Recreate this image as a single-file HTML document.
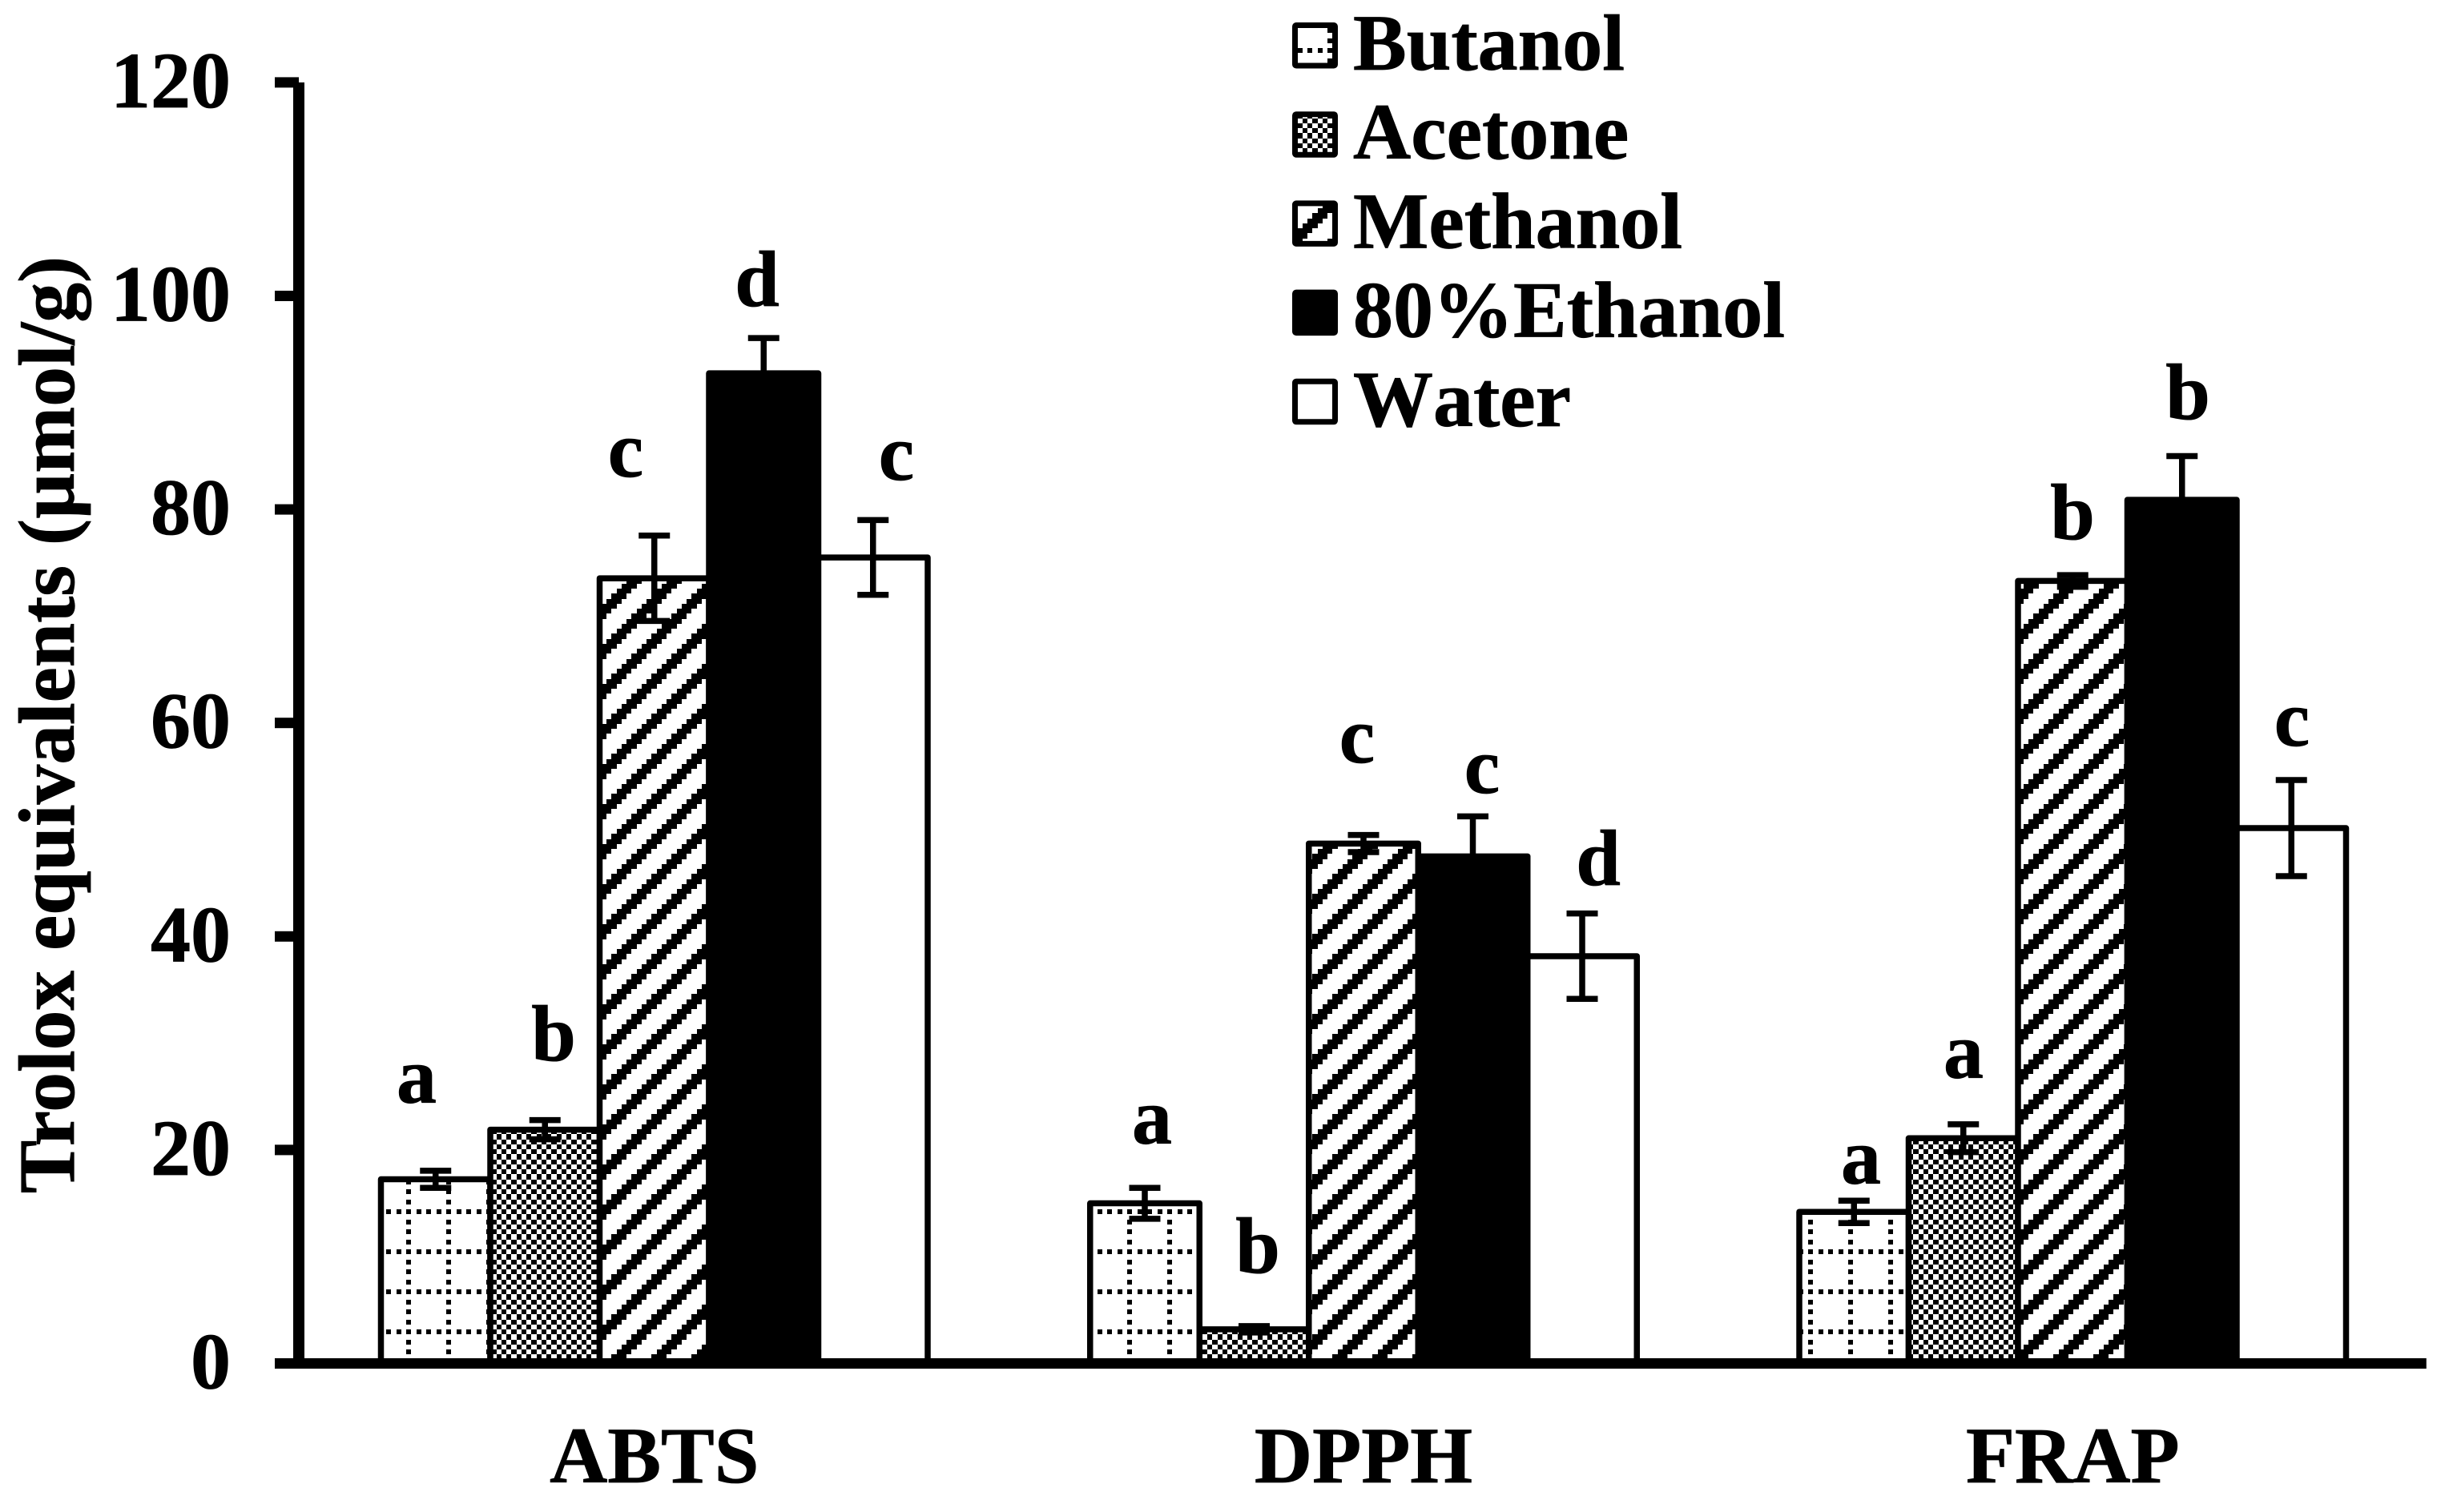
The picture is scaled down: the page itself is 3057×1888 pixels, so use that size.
<!DOCTYPE html>
<html lang="en">
<head>
<meta charset="utf-8">
<title>Trolox equivalents chart</title>
<style>
html,body{margin:0;padding:0;background:#fff;width:3057px;height:1888px;overflow:hidden}
svg{position:absolute;left:0;top:0;display:block}
text{font-family:"Liberation Serif",serif;font-weight:bold;font-size:100px;fill:#000;stroke:#000;stroke-width:.8px}
#legend text{font-kerning:none}
</style>
</head>
<body>
<svg id="chart" xmlns="http://www.w3.org/2000/svg" width="3057" height="1888" viewBox="0 0 3057 1888">
  <rect x="0" y="0" width="3057" height="1888" fill="#fff"/>
  <defs id="defs"></defs>
  <g id="bars"></g>
  <g id="errors"></g>
  <g id="axes"></g>
  <g id="legend"></g>
  <text transform="translate(92,905) rotate(-90)" text-anchor="middle" style="font-size:99.5px">Trolox equivalents (µmol/g)</text>
  <g text-anchor="middle">
    <text x="520" y="1377">a</text>
    <text x="691" y="1324">b</text>
    <text x="781" y="595">c</text>
    <text x="945" y="382">d</text>
    <text x="1119" y="599">c</text>
    <text x="1438" y="1428">a</text>
    <text x="1570" y="1589">b</text>
    <text x="1694" y="952">c</text>
    <text x="1850" y="990">c</text>
    <text x="1995" y="1105">d</text>
    <text x="2323" y="1478">a</text>
    <text x="2451" y="1346">a</text>
    <text x="2587" y="673">b</text>
    <text x="2731" y="523">b</text>
    <text x="2861" y="931">c</text>
  </g>
</svg>
<script>
const categories = ['ABTS', 'DPPH', 'FRAP'];
const seriesNames = ['Butanol', 'Acetone', 'Methanol', '80%Ethanol', 'Water'];
const butanolValues = [17.25, 15.0, 14.2];
const acetoneValues = [21.9, 3.2, 21.1];
const methanolValues = [73.55, 48.7, 73.3];
const ethanolValues = [92.75, 47.5, 80.9];
const waterValues = [75.5, 38.15, 50.15];
const butanolErrors = [0.8, 1.45, 1.05];
const acetoneErrors = [0.9, 0.3, 1.3];
const methanolErrors = [4.0, 0.8, 0.55];
const ethanolErrors = [3.3, 3.75, 4.1];
const waterErrors = [3.5, 4.0, 4.5];
const yTickLabels = [0, 20, 40, 60, 80, 100, 120];

const seriesValues = [butanolValues, acetoneValues, methanolValues, ethanolValues, waterValues];
const seriesErrors = [butanolErrors, acetoneErrors, methanolErrors, ethanolErrors, waterErrors];
const seriesFills = ['url(#pat-butanol)', 'url(#pat-acetone)', 'url(#pat-methanol)', '#000', '#fff'];

const NS = 'http://www.w3.org/2000/svg';
const PLOT_LEFT = 373, BASE_Y = 1702.5, UNIT = 13.33;
const FIRST_BAR = 475.5, GROUP_STEP = 885.25, BAR_W = 136.5;

function yScale(v) { return BASE_Y - v * UNIT; }
function barLeft(c, s) { return FIRST_BAR + c * GROUP_STEP + s * BAR_W; }
function groupCenter(c) { return barLeft(c, 0) + BAR_W * seriesNames.length / 2; }

function mk(tag, parent, attrs) {
  const el = document.createElementNS(NS, tag);
  for (const k in attrs) el.setAttribute(k, attrs[k]);
  parent.appendChild(el);
  return el;
}
function slug(s) { return s.toLowerCase().replace(/[^a-z0-9]+/g, ''); }

/* 8x8 hatch tiles on a 6.25px pixel grid, anchored globally */
function tilePath(test) {
  let d = '';
  const e = i => Math.round(i * 6.25);
  for (let j = 0; j < 8; j++) for (let i = 0; i < 8; i++) {
    if (test(i, j)) d += 'M' + e(i) + ' ' + e(j) + 'H' + e(i + 1) + 'V' + e(j + 1) + 'H' + e(i) + 'Z';
  }
  return d;
}
function addPattern(id, test) {
  const p = mk('pattern', document.getElementById('defs'), { id: id, patternUnits: 'userSpaceOnUse', x: 7, y: 10, width: 50, height: 50 });
  mk('rect', p, { x: 0, y: 0, width: 50, height: 50, fill: '#fff' });
  mk('path', p, { d: tilePath(test), fill: '#000', 'shape-rendering': 'crispEdges' });
}
addPattern('pat-butanol', (i, j) => (i === 0 && j % 2 === 0) || (j === 0 && i % 2 === 0));
addPattern('pat-acetone', (i, j) => (i + j) % 2 === 1);
addPattern('pat-methanol', (i, j) => [6, 7, 0].includes((i + j) % 8));

/* bars */
const barsG = document.getElementById('bars');
categories.forEach((cat, c) => {
  seriesNames.forEach((name, s) => {
    const x = barLeft(c, s);
    const top = yScale(seriesValues[s][c]);
    const bar = mk('path', barsG, {
      d: 'M' + x + ' ' + BASE_Y + 'V' + top + 'H' + (x + BAR_W) + 'V' + BASE_Y,
      fill: seriesFills[s], stroke: '#000', 'stroke-width': 7.5, 'stroke-linejoin': 'round'
    });
    
    
  });
});

/* error bars */
const errG = document.getElementById('errors');
categories.forEach((cat, c) => {
  seriesNames.forEach((name, s) => {
    const cx = barLeft(c, s) + BAR_W / 2;
    const v = seriesValues[s][c], e = seriesErrors[s][c];
    const g = mk('path', errG, {
      d: 'M' + cx + ' ' + yScale(v + e) + 'V' + yScale(v - e) +
         'M' + (cx - 19.5) + ' ' + yScale(v + e) + 'H' + (cx + 19.5) +
         'M' + (cx - 19.5) + ' ' + yScale(v - e) + 'H' + (cx + 19.5),
      fill: 'none', stroke: '#000', 'stroke-width': 7.5
    });
    
    
  });
});

/* axes */
const axesG = document.getElementById('axes');
const yAxis = mk('rect', axesG, { x: PLOT_LEFT - 7, y: yScale(120), width: 14, height: BASE_Y - yScale(120) + 6.5, fill: '#000' });


const xAxis = mk('rect', axesG, { x: 343, y: BASE_Y - 6.5, width: PLOT_LEFT + GROUP_STEP * categories.length - 343, height: 13, fill: '#000' });


yTickLabels.forEach(v => {
  const t = mk('rect', axesG, { x: 343, y: yScale(v) - 6.5, width: 30, height: 13, fill: '#000' });
  
  
  const l = mk('text', axesG, { x: 288, y: yScale(v) + 31, 'text-anchor': 'end' });
  l.textContent = v;
  
  
});
categories.forEach((cat, c) => {
  const l = mk('text', axesG, { x: groupCenter(c), y: 1851, 'text-anchor': 'middle' });
  l.textContent = cat;
  
  
});

/* legend */
const legendG = document.getElementById('legend');
seriesNames.forEach((name, s) => {
  const step = 111.2 * s;
  const swatch = mk('rect', legendG, { x: 1616.5, y: 31.5 + step, width: 50, height: 50.5, rx: 1.5, fill: seriesFills[s], stroke: '#000', 'stroke-width': 7, 'stroke-linejoin': 'round' });
  
  
  const label = mk('text', legendG, { x: 1689, y: 87 + step });
  label.textContent = name;
  
  
});
</script>
</body>
</html>
